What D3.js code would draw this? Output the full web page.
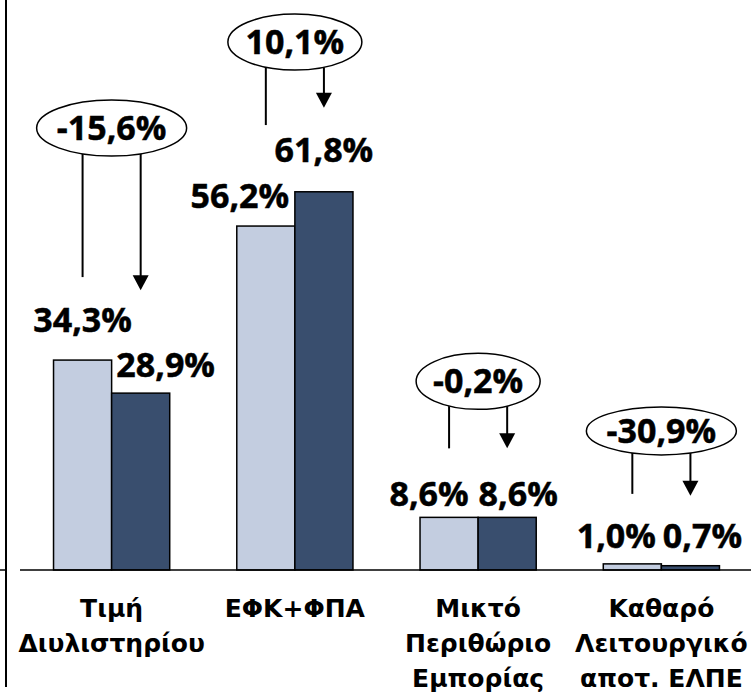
<!DOCTYPE html>
<html>
<head>
<meta charset="utf-8">
<script src="https://cdn.jsdelivr.net/npm/d3@7"></script>
<style>
  body { margin: 0; background: #fff; }
  .val { font-family: "Open Sans", sans-serif; font-weight: 700; font-size: 34px; fill: #000; stroke: #000; stroke-width: 0.5px; }
  .cat { font-family: "DejaVu Sans", sans-serif; font-weight: bold; font-size: 25px; fill: #000; }
</style>
</head>
<body>
<div id="graph"></div>
<script>
// share of retail price (%) - two periods per component
var categories = ['Τιμή Διυλιστηρίου', 'ΕΦΚ+ΦΠΑ', 'Μικτό Περιθώριο Εμπορίας', 'Καθαρό Λειτουργικό αποτ. ΕΛΠΕ'];
var catLines = [['Τιμή', 'Διυλιστηρίου'], ['ΕΦΚ+ΦΠΑ'], ['Μικτό', 'Περιθώριο', 'Εμπορίας'], ['Καθαρό', 'Λειτουργικό', 'αποτ. ΕΛΠΕ']];
var series = ['before', 'after'];
var before = [34.3, 56.2, 8.6, 1.0];
var after = [28.9, 61.8, 8.6, 0.7];
var changes = ['-15,6%', '10,1%', '-0,2%', '-30,9%'];

var colors = {before: '#c3cde0', after: '#394e6e'};

// hand placed label nudges (like the original slide)
var labelNudge = [
  [[0, -28], [25, -16]],
  [[-26, -18], [0, -30]],
  [[-20, -11], [11, -11]],
  [[-16, -16], [12, -18]]
];
// gaps above bar tops for the left line / arrow tip, and ellipse height above line end
var annotGap = [
  {left: 83, right: 103, up: 149, rx: 75, ry: 28},
  {left: 101, right: 84, up: 83, rx: 67, ry: 28},
  {left: 69, right: 69, up: 67, rx: 62, ry: 28},
  {left: 70, right: 70, up: 63, rx: 75, ry: 24}
];

var W = 751, H = 695, base = 570;
var gr = d3.formatLocale({decimal: ',', thousands: '.', grouping: [3], currency: ['', '€']});
var fmt = function(v) { return gr.format('.1f')(v) + '%'; };

var data = categories.map(function(c, i) {
  return {cat: c, i: i, vals: [{s: 'before', v: before[i]}, {s: 'after', v: after[i]}]};
});

var svg = d3.select('#graph').append('svg')
  .attr('width', W).attr('height', H);

var x0 = d3.scaleBand().domain(categories).range([20, 753]).paddingInner(0.366).paddingOuter(0.183);
var x1 = d3.scaleBand().domain(series).range([0, x0.bandwidth()]);
var y = d3.scaleLinear().domain([0, 70]).range([base, 141.6]);

// frame lines
svg.append('line').attr('x1', 6).attr('x2', 6).attr('y1', 0).attr('y2', 687)
  .attr('stroke', '#000').attr('stroke-width', 2);
svg.append('line').attr('x1', 0).attr('x2', 7).attr('y1', base).attr('y2', base)
  .attr('stroke', '#000').attr('stroke-width', 1.5);

var g = svg.selectAll('.grp').data(data).enter().append('g')
  .attr('class', 'grp')
  .attr('transform', function(d) { return 'translate(' + x0(d.cat) + ',0)'; });

g.selectAll('rect').data(function(d) { return d.vals; }).enter().append('rect')
  .attr('x', function(d) { return x1(d.s); })
  .attr('y', function(d) { return y(d.v); })
  .attr('width', x1.bandwidth())
  .attr('height', function(d) { return base - y(d.v); })
  .attr('fill', function(d) { return colors[d.s]; })
  .attr('stroke', '#000').attr('stroke-width', 1.5);

// x axis baseline
svg.append('g').attr('transform', 'translate(0,' + base + ')')
  .call(d3.axisBottom(x0).tickSize(0).tickFormat(''))
  .call(function(a) {
    a.select('.domain').attr('d', 'M20,0H751').attr('stroke', '#000').attr('stroke-width', 1.5);
  });

// value labels
g.each(function(d) {
  var gg = d3.select(this);
  d.vals.forEach(function(p, j) {
    var n = labelNudge[d.i][j];
    gg.append('text').attr('class', 'val')
      .attr('text-anchor', 'middle')
      .attr('x', x1(p.s) + x1.bandwidth() / 2 + n[0])
      .attr('y', y(p.v) + n[1])
      .text(fmt(p.v));
  });
});

// change annotations
g.each(function(d) {
  var gg = d3.select(this);
  var a = annotGap[d.i];
  var xl = x1('before') + x1.bandwidth() / 2;
  var xr = x1('after') + x1.bandwidth() / 2;
  var lineEnd = y(d.vals[0].v) - a.left;
  var tipEnd = y(d.vals[1].v) - a.right;
  var cy = lineEnd - a.up;
  var cx = (xl + xr) / 2;
  var dx = (xr - xl) / 2;
  var yStart = cy + a.ry * Math.sqrt(1 - (dx / a.rx) * (dx / a.rx));

  gg.append('line').attr('x1', xl).attr('x2', xl).attr('y1', yStart).attr('y2', lineEnd)
    .attr('stroke', '#000').attr('stroke-width', 2);
  gg.append('line').attr('x1', xr).attr('x2', xr).attr('y1', yStart).attr('y2', tipEnd - 12)
    .attr('stroke', '#000').attr('stroke-width', 2);
  gg.append('path')
    .attr('d', 'M' + (xr - 8) + ',' + (tipEnd - 15) + 'L' + (xr + 8) + ',' + (tipEnd - 15) + 'L' + xr + ',' + tipEnd + 'Z')
    .attr('fill', '#000');

  gg.append('ellipse').attr('cx', cx).attr('cy', cy).attr('rx', a.rx).attr('ry', a.ry)
    .attr('fill', '#fff').attr('stroke', '#000').attr('stroke-width', 1.5);
  gg.append('text').attr('class', 'val')
    .attr('text-anchor', 'middle')
    .attr('x', cx).attr('y', cy + 12)
    .text(changes[d.i]);
});

// category labels
g.each(function(d) {
  var t = d3.select(this).append('text').attr('class', 'cat').attr('text-anchor', 'middle');
  catLines[d.i].forEach(function(l, k) {
    t.append('tspan').attr('x', x0.bandwidth() / 2).attr('y', 617 + k * 35).text(l);
  });
});
</script>
</body>
</html>
